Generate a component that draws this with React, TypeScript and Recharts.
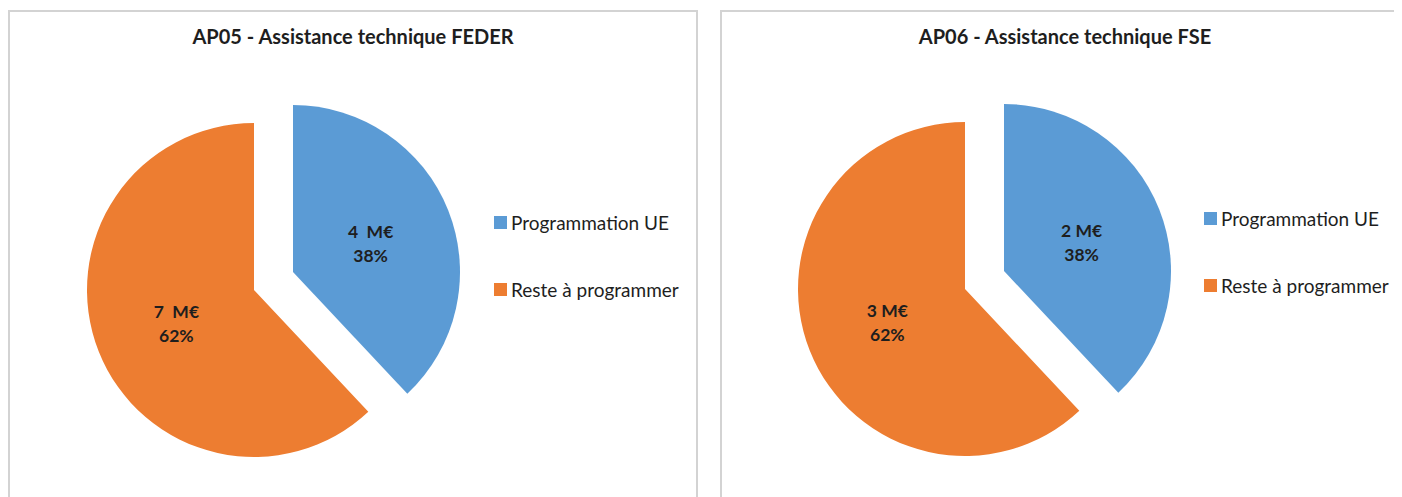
import React from "react";
import { PieChart, Pie, Cell, Legend } from "recharts";

// ---- data ----
const categories = ["Programmation UE", "Reste à programmer"];
const sliceColors = ["#5B9BD5", "#ED7D31"];

const ap05Title = "AP05 - Assistance technique FEDER";
const ap05Share = [38, 62];
const ap05AmountLabels = ["4  M€", "7  M€"];

const ap06Title = "AP06 - Assistance technique FSE";
const ap06Share = [38, 62];
const ap06AmountLabels = ["2 M€", "3 M€"];

const FONT = "Lato, 'Open Sans', sans-serif";
const TEXT = "#1e1e1e";
const RAD = Math.PI / 180;

type PanelProps = {
  title: string;
  share: number[];
  amountLabels: string[];
  width: number;
  centers: { cx: number; cy: number }[];
  legendTop: number;
  legendLeft: number;
};

function makeLabel(visibleIndex: number, amountLabels: string[]) {
  return (props: any) => {
    const { cx, cy, midAngle, outerRadius, index, payload } = props;
    if (index !== visibleIndex) return <g />;
    const r = outerRadius * 0.5;
    const x = cx + r * Math.cos(-midAngle * RAD);
    const y = cy + r * Math.sin(-midAngle * RAD);
    return (
      <text
        textAnchor="middle"
        fontFamily={FONT}
        fontWeight={700}
        fontSize={17.5}
        fill={TEXT}
        style={{ whiteSpace: "pre" }}
      >
        <tspan x={x} y={y - 3}>{amountLabels[index]}</tspan>
        <tspan x={x} y={y + 21}>{`${payload.value}%`}</tspan>
      </text>
    );
  };
}

function PiePanel({ title, share, amountLabels, width, centers, legendTop, legendLeft }: PanelProps) {
  const data = categories.map((name, i) => ({ name, value: share[i] }));
  return (
    <div style={{ position: "relative", width, height: 489 }}>
      <div
        style={{
          position: "absolute",
          left: 0,
          top: 15,
          width: 690,
          textAlign: "center",
          fontFamily: FONT,
          fontWeight: 700,
          fontSize: 20,
          lineHeight: "26px",
          color: TEXT,
        }}
      >
        {title}
      </div>
      <PieChart
        width={width}
        height={489}
        margin={{ top: 0, right: 0, bottom: 0, left: 0 }}
        style={{ position: "absolute", left: 0, top: 0 }}
      >
        {categories.map((_, vis) => (
          <Pie
            key={vis}
            data={data}
            dataKey="value"
            nameKey="name"
            cx={centers[vis].cx}
            cy={centers[vis].cy}
            outerRadius={167}
            startAngle={90}
            endAngle={-270}
            stroke="none"
            isAnimationActive={false}
            labelLine={false}
            label={makeLabel(vis, amountLabels)}
            legendType="none"
          >
            {data.map((_, i) => (
              <Cell key={i} fill={i === vis ? sliceColors[i] : "transparent"} />
            ))}
          </Pie>
        ))}
        <Legend
          content={() => (
            <div style={{ fontFamily: FONT, fontSize: 19, color: TEXT }}>
              {categories.map((c, i) => (
                <div
                  key={c}
                  style={{
                    display: "flex",
                    alignItems: "center",
                    height: 20,
                    marginBottom: 47,
                    whiteSpace: "nowrap",
                  }}
                >
                  <span
                    style={{
                      display: "inline-block",
                      width: 13,
                      height: 13,
                      background: sliceColors[i],
                      marginRight: 4,
                    }}
                  />
                  {c}
                </div>
              ))}
            </div>
          )}
          wrapperStyle={{ position: "absolute", left: legendLeft, top: legendTop, width: 220 }}
        />
      </PieChart>
    </div>
  );
}

export default function App() {
  return (
    <div style={{ position: "relative", width: 1394, height: 489, overflow: "hidden", background: "#fff" }}>
      <div
        style={{
          position: "absolute",
          left: 0,
          top: 2,
          width: 690,
          height: 600,
          border: "2px solid #d3d3d3",
          boxSizing: "border-box",
        }}
      />
      <div
        style={{
          position: "absolute",
          left: 712,
          top: 2,
          width: 690,
          height: 600,
          border: "2px solid #d3d3d3",
          boxSizing: "border-box",
        }}
      />
      <div style={{ position: "absolute", left: 0, top: 0 }}>
        <PiePanel
          title={ap05Title}
          share={ap05Share}
          amountLabels={ap05AmountLabels}
          width={690}
          centers={[{ cx: 285, cy: 264 }, { cx: 246, cy: 282 }]}
          legendLeft={486}
          legendTop={204}
        />
      </div>
      <div style={{ position: "absolute", left: 712, top: 0 }}>
        <PiePanel
          title={ap06Title}
          share={ap06Share}
          amountLabels={ap06AmountLabels}
          width={682}
          centers={[{ cx: 284, cy: 263 }, { cx: 245, cy: 281 }]}
          legendLeft={484}
          legendTop={200}
        />
      </div>
    </div>
  );
}
